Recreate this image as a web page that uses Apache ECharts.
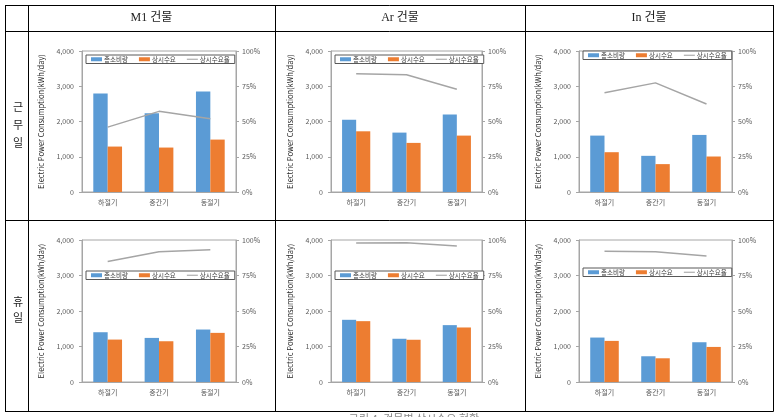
<!DOCTYPE html>
<html><head><meta charset="utf-8">
<script src="https://cdn.jsdelivr.net/npm/echarts@6/dist/echarts.min.js"></script>
<style>html,body{margin:0;padding:0;background:#fff;}#c{width:783px;height:417px;}</style>
</head><body><div id="c"></div>
<script>
const categories = ['하절기','중간기','동절기'];
const buildings = ['M1 건물','Ar 건물','In 건물'];
const dayTypes = ['근\n무\n일','휴\n일'];
const seriesNames = ['총소비량','상시수요','상시수요율'];
const yTicks = [0, 1000, 2000, 3000, 4000];
const rateTicks = [0, 25, 50, 75, 100];

// 근무일
const m1WorkTotal = [2795, 2231, 2852];
const m1WorkBase  = [1289, 1261, 1487];
const m1WorkRate  = [46.0, 57.2, 52.0];
const arWorkTotal = [2052, 1685, 2202];
const arWorkBase  = [1722, 1393, 1600];
const arWorkRate  = [83.8, 83.1, 72.9];
const inWorkTotal = [1600, 1026, 1619];
const inWorkBase  = [1129, 791, 1007];
const inWorkRate  = [70.4, 77.4, 62.4];
// 휴일
const m1HoliTotal = [1402, 1242, 1478];
const m1HoliBase  = [1195, 1148, 1384];
const m1HoliRate  = [84.9, 91.8, 93.2];
const arHoliTotal = [1752, 1218, 1602];
const arHoliBase  = [1714, 1190, 1536];
const arHoliRate  = [97.9, 98.0, 95.8];
const inHoliTotal = [1252, 725, 1120];
const inHoliBase  = [1158, 668, 988];
const inHoliRate  = [92.0, 91.8, 88.7];

const panelData = [
  [m1WorkTotal, m1WorkBase, m1WorkRate],
  [arWorkTotal, arWorkBase, arWorkRate],
  [inWorkTotal, inWorkBase, inWorkRate],
  [m1HoliTotal, m1HoliBase, m1HoliRate],
  [arHoliTotal, arHoliBase, arHoliRate],
  [inHoliTotal, inHoliBase, inHoliRate]
];

// layout
const gridX = [{left:82, width:154}, {left:331, width:151}, {left:579, width:153}];
const gridY = [{top:51, height:141}, {top:240, height:142}];
const legendPos = [
  {left:86, top:55}, {left:335, top:55}, {left:583, top:51},
  {left:86, top:271}, {left:335, top:271}, {left:583, top:268}
];
const titleGap = 37;

const FONT = "'Noto Sans CJK KR', 'Noto Sans', sans-serif";
const axisColor = '#A6A6A6';
const labelColor = '#595959';
const colors = ['#5B9BD5', '#ED7D31', '#A5A5A5'];
const lineIcon = 'path://M0,0M0,1.4H12V2.6H0ZM12,4';

const grids = [], xAxes = [], yAxes = [], series = [], legends = [];
for (let p = 0; p < 6; p++) {
  const col = p % 3, row = Math.floor(p / 3);
  grids.push({left: gridX[col].left, width: gridX[col].width, top: gridY[row].top, height: gridY[row].height,
    show: true, borderColor: axisColor, borderWidth: 1, backgroundColor: 'transparent', containLabel: false});
  xAxes.push({type: 'category', gridIndex: p, data: categories,
    axisLine: {show: true, lineStyle: {color: axisColor}}, axisTick: {show: false},
    axisLabel: {fontSize: 7, color: labelColor, margin: 7, fontFamily: FONT}});
  yAxes.push({type: 'value', gridIndex: p, min: yTicks[0], max: yTicks[yTicks.length-1], interval: 1000, position: 'left',
    name: 'Electric Power Consumption(kWh/day)', nameLocation: 'middle', nameGap: titleGap,
    nameTextStyle: {fontSize: 7.5, color: '#262626', fontFamily: FONT},
    axisLine: {show: true, lineStyle: {color: axisColor}}, axisTick: {show: true, length: 3, lineStyle: {color: axisColor}},
    splitLine: {show: false},
    axisLabel: {fontSize: 7, color: labelColor, margin: 8, fontFamily: FONT, formatter: v => v.toLocaleString('en-US')}});
  yAxes.push({type: 'value', gridIndex: p, min: rateTicks[0], max: rateTicks[rateTicks.length-1], interval: 25, position: 'right',
    axisLine: {show: true, lineStyle: {color: axisColor}}, axisTick: {show: true, length: 3, lineStyle: {color: axisColor}},
    splitLine: {show: false},
    axisLabel: {fontSize: 7, color: labelColor, margin: 6, fontFamily: FONT, formatter: '{value}%'}});
  const d = panelData[p];
  series.push({name: seriesNames[0], type: 'bar', xAxisIndex: p, yAxisIndex: 2*p, data: d[0],
    barWidth: '28%', barGap: '0%', itemStyle: {color: colors[0]}, z: 2});
  series.push({name: seriesNames[1], type: 'bar', xAxisIndex: p, yAxisIndex: 2*p, data: d[1],
    barWidth: '28%', barGap: '0%', itemStyle: {color: colors[1]}, z: 2});
  series.push({name: seriesNames[2], type: 'line', xAxisIndex: p, yAxisIndex: 2*p+1, data: d[2],
    symbol: 'none', lineStyle: {color: colors[2], width: 1.5}, itemStyle: {color: colors[2]}, z: 3});
  legends.push({left: legendPos[p].left, top: legendPos[p].top, orient: 'horizontal',
    data: [{name: seriesNames[0], icon: 'rect'}, {name: seriesNames[1], icon: 'rect'},
           {name: seriesNames[2], icon: lineIcon, itemStyle: {color: colors[2], borderWidth: 0}}],
    borderColor: '#595959', borderWidth: 1, backgroundColor: '#fff', padding: [1, 5],
    itemWidth: 11, itemHeight: 4, itemGap: 11, selectedMode: false,
    textStyle: {fontSize: 6.5, color: '#404040', fontFamily: FONT, padding: [0,0,0,-3]}});
}

// table graphics
const vx = [5, 28, 275, 525, 773];
const hy = [5, 31, 220, 411];
const graphics = [];
vx.forEach(x => graphics.push({type: 'line', shape: {x1: x+0.5, y1: 5, x2: x+0.5, y2: 411.5}, style: {stroke: '#000', lineWidth: 1}, silent: true}));
hy.forEach(y => graphics.push({type: 'line', shape: {x1: 5, y1: y+0.5, x2: 773.5, y2: y+0.5}, style: {stroke: '#000', lineWidth: 1}, silent: true}));
const headerX = [151.5, 400, 649];
buildings.forEach((b, i) => graphics.push({type: 'text', x: headerX[i], y: 18,
  style: {text: b, fontSize: 12, fill: '#222', fontFamily: "'Liberation Serif', 'Noto Sans CJK KR', serif", align: 'center', verticalAlign: 'middle'}}));
const rowY = [125, 310];
const rowLH = [18, 16];
dayTypes.forEach((t, i) => graphics.push({type: 'text', x: 18, y: rowY[i],
  style: {text: t, fontSize: 11, lineHeight: rowLH[i], fill: '#222', fontFamily: FONT, align: 'center', verticalAlign: 'middle'}}));
graphics.push({type: 'text', x: 414, y: 413, style: {text: '그림 4. 건물별 상시수요 현황', fontSize: 11, fill: '#888', fontFamily: FONT, align: 'center', verticalAlign: 'top'}});

const chart = echarts.init(document.getElementById('c'), null, {renderer: 'canvas'});
chart.setOption({
  animation: false,
  textStyle: {fontFamily: FONT},
  grid: grids, xAxis: xAxes, yAxis: yAxes, series: series, legend: legends, graphic: graphics
});
</script></body></html>
